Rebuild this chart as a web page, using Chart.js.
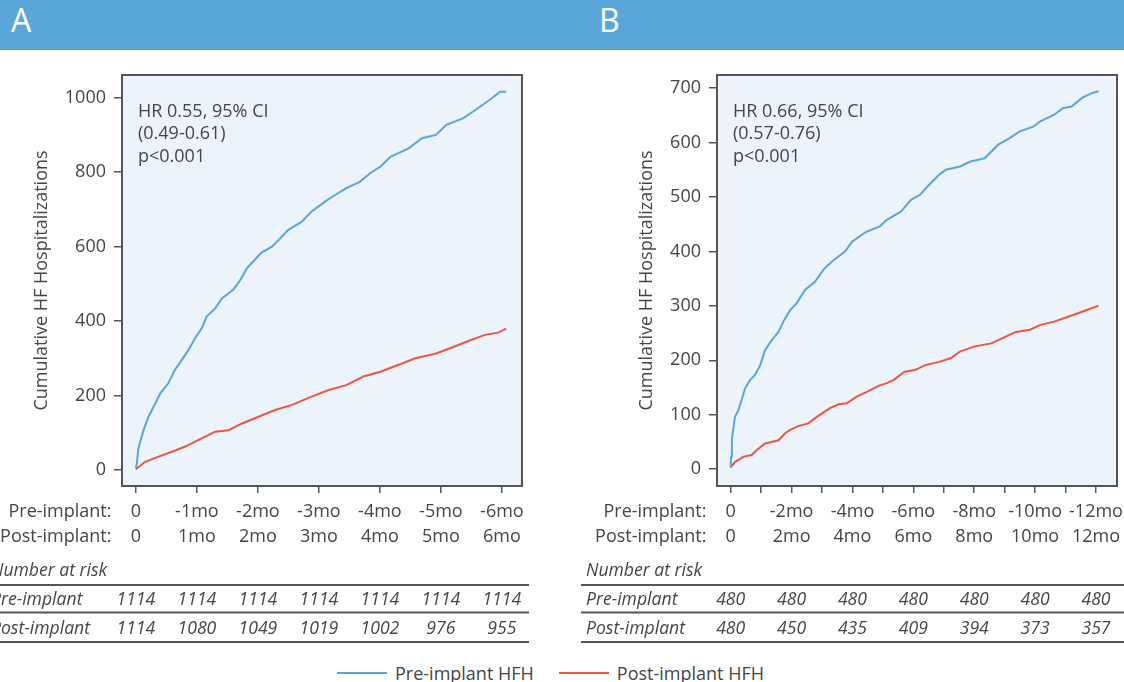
<!DOCTYPE html>
<html>
<head>
<meta charset="utf-8">
<script src="https://cdn.jsdelivr.net/npm/chart.js@4.4.0/dist/chart.umd.min.js"></script>
<style>
  html, body { margin:0; padding:0; width:1124px; height:682px; overflow:hidden; background:#fff; font-family:"Open Sans", sans-serif; color:#454545; }
  #banner { position:absolute; left:0; top:0; width:1124px; height:50px; background:#5BA6D9; }
  .plabel { position:absolute; top:4px; color:#fff; font-size:32px; line-height:32px; }
  canvas { position:absolute; top:55px; }
  #legend { position:absolute; left:337px; top:662px; height:22px; display:flex; align-items:center; font-size:18px; color:#454545; white-space:nowrap; }
  #legend .sw { width:50px; height:2px; margin-right:8px; }
</style>
</head>
<body>
<div id="banner"></div>
<div class="plabel" style="left:11px;">A</div>
<div class="plabel" style="left:599px;">B</div>
<canvas id="cA" width="580" height="600" style="left:-20px;width:580px;height:600px;"></canvas>
<canvas id="cB" width="580" height="600" style="left:575px;width:580px;height:600px;"></canvas>
<div id="legend">
  <div class="sw" style="background:#5AA5DC;"></div><span>Pre-implant HFH</span>
  <div class="sw" style="background:#EE5640;margin-left:25px;"></div><span>Post-implant HFH</span>
</div>
<script>
// ---------- Panel A data (months from implant, cumulative HF hospitalizations) ----------
const timeA_pre = [0, 0.016, 0.04, 0.125, 0.206, 0.29, 0.40, 0.53, 0.64, 0.75, 0.86, 0.97, 1.08, 1.16, 1.30, 1.41, 1.60, 1.71, 1.82, 2.06, 2.23, 2.34, 2.50, 2.72, 2.88, 3.10, 3.22, 3.45, 3.67, 3.84, 4.01, 4.18, 4.47, 4.69, 4.92, 5.09, 5.37, 5.60, 5.83, 5.97, 6.07];
const hfhA_pre  = [5, 18, 58, 107, 143, 170, 206, 233, 269, 295, 322, 354, 381, 412, 434, 461, 485, 510, 542, 584, 600, 618, 645, 667, 694, 721, 734, 757, 774, 797, 815, 842, 864, 891, 900, 927, 945, 971, 998, 1016, 1016];
const timeA_post = [0, 0.15, 0.37, 0.59, 0.81, 0.97, 1.13, 1.30, 1.52, 1.74, 2.01, 2.28, 2.56, 2.88, 3.16, 3.45, 3.73, 4.01, 4.30, 4.58, 4.92, 5.15, 5.43, 5.72, 5.94, 6.07];
const hfhA_post  = [2, 22, 36, 49, 63, 76, 89, 103, 107, 125, 143, 161, 175, 197, 215, 228, 251, 264, 282, 300, 313, 327, 345, 363, 369, 380];
const yTicksA = [0, 200, 400, 600, 800, 1000];
const monthsA = [0, 1, 2, 3, 4, 5, 6];
const preTickA  = ['0', '-1mo', '-2mo', '-3mo', '-4mo', '-5mo', '-6mo'];
const postTickA = ['0', '1mo', '2mo', '3mo', '4mo', '5mo', '6mo'];
const riskMonthsA = [0, 1, 2, 3, 4, 5, 6];
const riskPreA  = [1114, 1114, 1114, 1114, 1114, 1114, 1114];
const riskPostA = [1114, 1080, 1049, 1019, 1002, 976, 955];
const annotA = ['HR 0.55, 95% CI', '(0.49-0.61)', 'p<0.001'];

// ---------- Panel B data ----------
const timeB_pre = [0, 0.01, 0.04, 0.14, 0.25, 0.36, 0.47, 0.64, 0.80, 0.97, 1.13, 1.35, 1.57, 1.73, 1.95, 2.17, 2.44, 2.77, 3.04, 3.32, 3.76, 3.99, 4.45, 4.90, 5.13, 5.59, 5.93, 6.22, 6.51, 6.85, 7.07, 7.53, 7.88, 8.34, 8.79, 9.14, 9.48, 9.94, 10.17, 10.63, 10.91, 11.2, 11.54, 11.88, 12.08];
const hfhB_pre  = [3, 23, 56, 96, 108, 127, 148, 164, 173, 191, 219, 237, 252, 271, 292, 305, 329, 344, 366, 381, 400, 418, 436, 446, 458, 473, 495, 504, 522, 541, 550, 556, 565, 571, 596, 607, 620, 629, 639, 651, 663, 666, 682, 691, 694];
const timeB_post = [0, 0.14, 0.42, 0.69, 0.86, 1.13, 1.57, 1.79, 1.95, 2.22, 2.55, 2.83, 3.26, 3.54, 3.81, 4.14, 4.47, 4.85, 5.13, 5.36, 5.71, 6.05, 6.39, 6.85, 7.24, 7.53, 7.99, 8.56, 9.02, 9.37, 9.83, 10.17, 10.63, 11.08, 11.54, 12.08];
const hfhB_post  = [3, 13, 23, 26, 35, 47, 53, 66, 72, 79, 84, 96, 112, 119, 121, 133, 142, 153, 158, 164, 179, 182, 191, 197, 204, 216, 225, 231, 243, 252, 256, 265, 271, 280, 289, 300];
const yTicksB = [0, 100, 200, 300, 400, 500, 600, 700];
const monthsB = [0, 1, 2, 3, 4, 5, 6, 7, 8, 9, 10, 11, 12];
const labelMonthsB = [0, 2, 4, 6, 8, 10, 12];
const preTickB  = ['0', '-2mo', '-4mo', '-6mo', '-8mo', '-10mo', '-12mo'];
const postTickB = ['0', '2mo', '4mo', '6mo', '8mo', '10mo', '12mo'];
const riskMonthsB = [0, 2, 4, 6, 8, 10, 12];
const riskPreB  = [480, 480, 480, 480, 480, 480, 480];
const riskPostB = [480, 450, 435, 409, 394, 373, 357];
const annotB = ['HR 0.66, 95% CI', '(0.57-0.76)', 'p<0.001'];

const BLUE = '#5AA5DC', RED = '#EE5640', TXT = '#454545', FRAME = '#555555';
const FONT = '"Open Sans", sans-serif';

Chart.defaults.font.family = FONT;
Chart.defaults.font.size = 18;
Chart.defaults.color = TXT;

const panelPlugin = {
  id: 'panel',
  beforeDraw(chart) {
    const { ctx, chartArea: a } = chart;
    ctx.save();
    ctx.fillStyle = '#ECF3FB';
    ctx.fillRect(a.left, a.top, a.right - a.left, a.bottom - a.top);
    ctx.restore();
  },
  afterDraw(chart, args, o) {
    const { ctx, chartArea: a } = chart;
    const xs = chart.scales.x;
    ctx.save();
    // frame
    ctx.strokeStyle = FRAME; ctx.lineWidth = 2;
    ctx.strokeRect(a.left, a.top, a.right - a.left, a.bottom - a.top);
    // annotation
    ctx.fillStyle = TXT; ctx.textBaseline = 'middle'; ctx.textAlign = 'left';
    ctx.font = '18px ' + FONT;
    o.annot.forEach((t, i) => ctx.fillText(t, a.left + 16, a.top + 36.5 + 22.6 * i));
    // row labels of x ticks
    ctx.textAlign = 'right';
    ctx.fillText('Pre-implant:', a.left - 10.5, a.bottom + 26);
    ctx.fillText('Post-implant:', a.left - 10.5, a.bottom + 51);
    // number at risk table
    ctx.font = 'italic 17.6px ' + FONT;
    ctx.textAlign = 'left';
    ctx.fillText('Number at risk', a.left - 131, a.bottom + 85);
    ctx.fillText('Pre-implant', a.left - 131, a.bottom + 114);
    ctx.fillText('Post-implant', a.left - 131, a.bottom + 143);
    ctx.textAlign = 'center';
    o.riskMonths.forEach((m, i) => {
      const x = xs.getPixelForValue(m);
      ctx.fillText(String(o.riskPre[i]), x, a.bottom + 114);
      ctx.fillText(String(o.riskPost[i]), x, a.bottom + 143);
    });
    ctx.strokeStyle = FRAME; ctx.lineWidth = 2;
    [99, 126.5, 156].forEach(dy => {
      ctx.beginPath();
      ctx.moveTo(a.left - 136, a.bottom + dy);
      ctx.lineTo(a.right + 7, a.bottom + dy);
      ctx.stroke();
    });
    ctx.restore();
  }
};

function makeChart(id, p) {
  const toPts = (t, v) => t.map((x, i) => ({ x: x, y: v[i] }));
  return new Chart(document.getElementById(id), {
    type: 'line',
    data: {
      datasets: [
        { label: 'Pre-implant HFH', data: toPts(p.tPre, p.vPre), borderColor: BLUE, borderWidth: 2, pointRadius: 0, tension: 0, fill: false },
        { label: 'Post-implant HFH', data: toPts(p.tPost, p.vPost), borderColor: RED, borderWidth: 2, pointRadius: 0, tension: 0, fill: false }
      ]
    },
    options: {
      responsive: false, animation: false, devicePixelRatio: 1,
      layout: { padding: { left: p.padLeft, top: 20, right: 38, bottom: 0 } },
      plugins: {
        legend: { display: false }, tooltip: { enabled: false },
        panel: { annot: p.annot, riskMonths: p.riskMonths, riskPre: p.riskPre, riskPost: p.riskPost }
      },
      scales: {
        x: {
          type: 'linear', min: p.xMin, max: p.xMax,
          afterBuildTicks: s => { s.ticks = p.months.map(v => ({ value: v })); },
          afterFit: s => { s.height = 169; s.paddingLeft = 0; s.paddingRight = 0; },
          grid: { drawOnChartArea: false, drawTicks: true, tickLength: 7, color: FRAME, lineWidth: 1.5 },
          border: { display: false },
          ticks: {
            autoSkip: false, maxRotation: 0, minRotation: 0, padding: 6.5,
            font: { size: 18, lineHeight: '25px' }, color: TXT,
            callback: v => { const k = p.labelMonths.indexOf(v); return k < 0 ? '' : [p.preTick[k], p.postTick[k]]; }
          }
        },
        y: {
          type: 'linear', min: p.yMin, max: p.yMax,
          afterBuildTicks: s => { s.ticks = p.yTicks.map(v => ({ value: v })); },
          afterFit: s => { s.width = 142 - p.padLeft; s.paddingTop = 0; s.paddingBottom = 0; },
          grid: { drawOnChartArea: false, drawTicks: true, tickLength: 8, color: FRAME, lineWidth: 1.5 },
          border: { display: false },
          ticks: { padding: 8, color: TXT, font: { size: 18 }, callback: v => String(v) },
          title: { display: true, text: 'Cumulative HF Hospitalizations', color: TXT, font: { size: 18 }, padding: 0 }
        }
      }
    },
    plugins: [panelPlugin]
  });
}

makeChart('cA', {
  tPre: timeA_pre, vPre: hfhA_pre, tPost: timeA_post, vPost: hfhA_post,
  xMin: -0.228, xMax: 6.33, yMin: -43, yMax: 1061, padLeft: 51,
  months: monthsA, labelMonths: monthsA, preTick: preTickA, postTick: postTickA,
  yTicks: yTicksA, annot: annotA, riskMonths: riskMonthsA, riskPre: riskPreA, riskPost: riskPostA
});
makeChart('cB', {
  tPre: timeB_pre, vPre: hfhB_pre, tPost: timeB_post, vPost: hfhB_post,
  xMin: -0.45, xMax: 12.69, yMin: -31, yMax: 724, padLeft: 61,
  months: monthsB, labelMonths: labelMonthsB, preTick: preTickB, postTick: postTickB,
  yTicks: yTicksB, annot: annotB, riskMonths: riskMonthsB, riskPre: riskPreB, riskPost: riskPostB
});
</script>
</body>
</html>
